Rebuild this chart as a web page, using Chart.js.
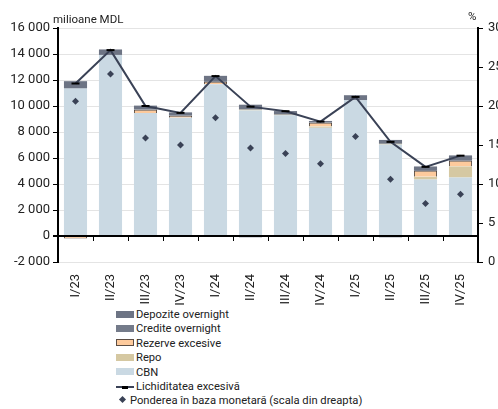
<!DOCTYPE HTML>
<html>
<head>
  <title>Lichiditatea excesiva</title>
  <script src="https://cdn.jsdelivr.net/npm/chart.js"></script>
  <style>
    body { margin:0; background:#fff; font-family: Roboto, "Noto Sans", sans-serif; overflow:hidden; }
    .wrap { position:relative; width:498px; height:409px; }
    #legend { position:absolute; left:116px; top:308px; font-size:11.2px; color:#222; }
    .row { height:14.4px; line-height:14.4px; white-space:nowrap; }
    .box { display:inline-block; width:18px; height:7px; vertical-align:middle; margin-right:2px; box-sizing:border-box; position:relative; top:-1px; }
  </style>
</head>
<body>
<div class="wrap">
  <canvas id="liqChart" width="498" height="307"></canvas>
  <div id="legend"></div>
</div>
<script type="text/javascript">
  // categories
  var labels = ["I/23","II/23","III/23","IV/23","I/24","II/24","III/24","IV/24","I/25","II/25","III/25","IV/25"];

  // milioane MDL
  var cbn        = [11340, 13930, 9455, 9100, 11680, 9660, 9280, 8320, 10440, 7030, 4340, 4500];
  var repo       = [0, 0, 0, 0, 0, 60, 50, 100, 0, 60, 210, 850];
  var rezerve    = [-200, 0, 265, 155, 180, 0, 0, 300, 0, 0, 460, 440];
  var credite    = [0, 0, 0, 0, 0, -100, 0, 0, 0, -100, 0, 0];
  var depozite   = [570, 420, 310, 255, 460, 380, 280, 130, 390, 300, 340, 410];
  var lichiditate = [11730, 14300, 10000, 9470, 12300, 9950, 9600, 8800, 10700, 7240, 5320, 6180];

  // % (scala din dreapta)
  var pondere = [20.6, 24.1, 15.9, 15.0, 18.5, 14.6, 13.9, 12.6, 16.1, 10.6, 7.5, 8.7];

  var leftTicks = [-2000, 16000, 2000];   // min, max, step
  var rightTicks = [0, 30, 5];

  var colors = {cbn:'#cad9e3', repo:'#d5c8a2', rez:'#fdca9c', rezBorder:'#5b4d44', gray:'#6d7484', gray2:'#747b8a', line:'#3a4256'};

  function fmt(v) {
    var s = Math.abs(v).toString().replace(/\B(?=(\d{3})+(?!\d))/g, ' ');
    return (v < 0 ? '-' : '') + s;
  }

  var extras = {
    id: 'extras',
    afterDraw: function (chart) {
      var c = chart.ctx;
      var x = chart.scales.x, y = chart.scales.y;
      var y0 = y.getPixelForValue(0);
      c.save();
      // tick marks under the zero line at category boundaries
      c.strokeStyle = '#000';
      c.lineWidth = 1;
      for (var i = 1; i < labels.length; i++) {
        var xb = (x.getPixelForValue(i - 1) + x.getPixelForValue(i)) / 2;
        c.beginPath();
        c.moveTo(Math.round(xb) + 0.5, y0);
        c.lineTo(Math.round(xb) + 0.5, y0 + 5);
        c.stroke();
      }
      c.fillStyle = '#222';
      c.font = '11.5px Roboto';
      c.textBaseline = 'alphabetic';
      c.textAlign = 'left';
      c.fillText('milioane MDL', 53, 23);
      c.fillText('%', 468, 20);
      c.restore();
    }
  };

  var ctx = document.getElementById('liqChart');
  var chart = new Chart(ctx, {
    type: 'bar',
    data: {
      labels: labels,
      datasets: [
        { label: 'CBN', data: cbn, backgroundColor: colors.cbn, order: 3 },
        { label: 'Repo', data: repo, backgroundColor: colors.repo, order: 3 },
        { label: 'Rezerve excesive', data: rezerve, backgroundColor: colors.rez, borderColor: colors.rezBorder, borderWidth: 1, order: 3 },
        { label: 'Credite overnight', data: credite, backgroundColor: colors.gray2, order: 3 },
        { label: 'Depozite overnight', data: depozite, backgroundColor: colors.gray, order: 3 },
        {
          type: 'line', label: 'Lichiditatea excesivă', data: lichiditate,
          borderColor: colors.line, borderWidth: 2, tension: 0,
          pointStyle: 'line', pointRadius: 4, pointBorderColor: '#000', pointBorderWidth: 2,
          order: 1, stack: 'line'
        },
        {
          type: 'line', label: 'Ponderea în baza monetară (scala din dreapta)', data: pondere,
          yAxisID: 'y1', showLine: false, pointStyle: 'rectRot', pointRadius: 3.5,
          pointBackgroundColor: colors.line, pointBorderColor: colors.line, pointBorderWidth: 0,
          order: 0, stack: 'dots'
        }
      ]
    },
    options: {
      responsive: false,
      animation: false,
      layout: { padding: { top: 28, left: 0, right: 0, bottom: 0 } },
      plugins: { legend: { display: false }, tooltip: { enabled: false } },
      datasets: { bar: { barPercentage: 0.66, categoryPercentage: 1.0 } },
      scales: {
        x: {
          stacked: true,
          grid: { display: false },
          border: { display: false },
          ticks: { minRotation: 90, maxRotation: 90, color: '#222', font: { family: 'Roboto', size: 13 }, padding: 4 },
          afterFit: function (s) { s.height = 45; }
        },
        y: {
          stacked: true,
          min: leftTicks[0], max: leftTicks[1],
          ticks: { stepSize: leftTicks[2], color: '#222', font: { family: 'Roboto', size: 13 }, padding: 3, callback: function (v) { return fmt(v); } },
          grid: {
            color: function (c) { return c.tick && c.tick.value === 0 ? '#000' : '#e4e4e4'; },
            lineWidth: function (c) { return c.tick && c.tick.value === 0 ? 2 : 1; },
            tickColor: '#000', tickLength: 5
          },
          border: { color: '#000', width: 2 },
          afterFit: function (s) { s.width = 58; }
        },
        y1: {
          position: 'right',
          min: rightTicks[0], max: rightTicks[1],
          ticks: { stepSize: rightTicks[2], color: '#222', font: { family: 'Roboto', size: 13 }, padding: 5 },
          grid: { drawOnChartArea: false, tickColor: '#000', tickLength: 5 },
          border: { color: '#000', width: 2 },
          afterFit: function (s) { s.width = 20; }
        }
      }
    },
    plugins: [extras]
  });

  // legend, in the order of the reference
  var legendItems = [
    { name: 'Depozite overnight', kind: 'box', fill: colors.gray },
    { name: 'Credite overnight', kind: 'box', fill: colors.gray2 },
    { name: 'Rezerve excesive', kind: 'box', fill: colors.rez, border: colors.rezBorder },
    { name: 'Repo', kind: 'box', fill: colors.repo },
    { name: 'CBN', kind: 'box', fill: colors.cbn },
    { name: 'Lichiditatea excesivă', kind: 'line' },
    { name: 'Ponderea în baza monetară (scala din dreapta)', kind: 'dot' }
  ];
  var lg = document.getElementById('legend');
  legendItems.forEach(function (it) {
    var row = document.createElement('div');
    row.className = 'row';
    var mark = document.createElement('span');
    mark.className = 'box';
    if (it.kind === 'box') {
      mark.style.background = it.fill;
      if (it.border) mark.style.border = '1px solid ' + it.border;
    } else if (it.kind === 'line') {
      mark.style.height = '2px';
      mark.style.background = colors.line;
      mark.style.top = '0px';
      mark.innerHTML = '<span style="position:absolute;left:6px;top:-0.5px;width:6px;height:3px;background:#000"></span>';
    } else {
      mark.style.width = '14px';
      mark.style.height = '10px';
      mark.style.marginRight = '0px';
      mark.innerHTML = '<span style="position:absolute;left:4px;top:2px;width:5px;height:5px;background:' + colors.line + ';transform:rotate(45deg)"></span>';
    }
    row.appendChild(mark);
    row.appendChild(document.createTextNode(it.name));
    lg.appendChild(row);
  });
</script>
</body>
</html>
